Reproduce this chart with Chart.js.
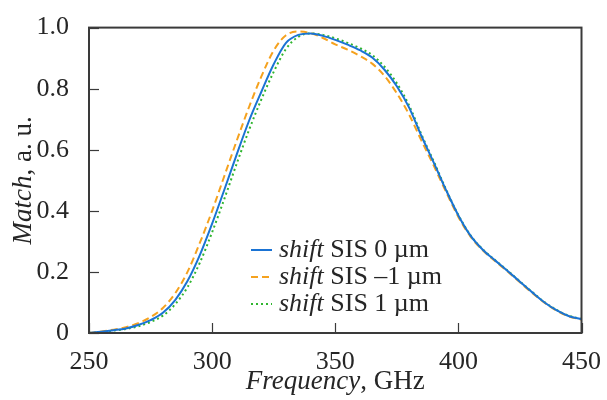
<!DOCTYPE html>
<html>
<head>
<meta charset="utf-8">
<script src="https://cdn.jsdelivr.net/npm/chart.js@4.4.0/dist/chart.umd.min.js"></script>
<style>
  html, body { margin: 0; padding: 0; background: #fff; }
  #wrap { width: 607px; height: 400px; }
  .warm { position: absolute; left: -999px; font-family: "Liberation Serif"; font-size: 24px; }
</style>
</head>
<body>
<span class="warm">warm <i>italic</i></span>
<div id="wrap"><canvas id="chart" width="607" height="400"></canvas></div>
<script>
// frequency grid, GHz
const freq = [250,255,260,265,270,275,280,285,290,295,300,305,310,315,320,325,330,335,340,345,350,
  355,360,365,370,375,380,385,390,395,400,405,410,415,420,425,430,435,440,445,450];

// shift SIS 0 um
const match0 = [0.000,0.004,0.009,0.015,0.026,0.042,0.066,0.108,0.170,0.255,0.358,0.470,0.585,0.695,0.790,0.880,0.950,0.976,0.981,0.973,0.960,
  0.944,0.926,0.902,0.862,0.808,0.738,0.645,0.558,0.468,0.385,0.318,0.272,0.237,0.203,0.168,0.133,0.100,0.074,0.055,0.045];
// shift SIS -1 um
const matchM1 = [0.000,0.005,0.011,0.019,0.032,0.052,0.082,0.130,0.200,0.295,0.400,0.515,0.630,0.740,0.840,0.925,0.975,0.987,0.982,0.966,0.945,
  0.928,0.907,0.882,0.842,0.785,0.715,0.630,0.548,0.462,0.380,0.315,0.270,0.235,0.201,0.166,0.131,0.099,0.073,0.054,0.044];
// shift SIS 1 um
const matchP1 = [0.000,0.003,0.008,0.013,0.022,0.036,0.057,0.094,0.150,0.230,0.330,0.440,0.555,0.665,0.765,0.855,0.930,0.970,0.981,0.976,0.965,
  0.950,0.933,0.910,0.872,0.818,0.745,0.650,0.562,0.470,0.386,0.319,0.273,0.238,0.204,0.169,0.134,0.101,0.075,0.056,0.046];

const xTicks = [250, 300, 350, 400, 450];
const yTicks = [0, 0.2, 0.4, 0.6, 0.8, 1.0];
const legendLabels = [' SIS 0 µm', ' SIS –1 µm', ' SIS 1 µm'];

const SERIF = '"Liberation Serif", serif';
const INK = '#262626';

const pts = (ys) => freq.map((f, i) => ({ x: f, y: ys[i] }));

// frame, inward ticks, axis titles, legend
const decor = {
  id: 'decor',
  afterDraw(chart) {
    const { ctx, chartArea: a, scales } = chart;
    ctx.save();
    ctx.strokeStyle = '#3a3a3a';
    ctx.lineWidth = 1.2;
    for (const v of xTicks) {
      const px = Math.round(scales.x.getPixelForValue(v)) + 0.5;
      ctx.beginPath(); ctx.moveTo(px, a.bottom); ctx.lineTo(px, a.bottom - 10); ctx.stroke();
    }
    for (const v of yTicks) {
      const py = Math.round(scales.y.getPixelForValue(v)) + 0.5;
      ctx.beginPath(); ctx.moveTo(a.left, py); ctx.lineTo(a.left + 10, py); ctx.stroke();
    }
    ctx.lineWidth = 2;
    ctx.strokeRect(a.left, a.top, a.right - a.left, a.bottom - a.top);

    ctx.fillStyle = INK;
    ctx.textBaseline = 'middle';
    const drawMixed = (parts, cx, cy) => {
      let w = 0;
      for (const p of parts) { ctx.font = p[1]; w += ctx.measureText(p[0]).width; }
      let x = cx - w / 2;
      ctx.textAlign = 'left';
      for (const p of parts) { ctx.font = p[1]; ctx.fillText(p[0], x, cy); x += ctx.measureText(p[0]).width; }
    };
    drawMixed([['Frequency', 'italic 27px ' + SERIF], [', GHz', '27px ' + SERIF]], (a.left + a.right) / 2, 382);
    ctx.save();
    ctx.translate(24, (a.top + a.bottom) / 2);
    ctx.rotate(-Math.PI / 2);
    drawMixed([['Match', 'italic 27px ' + SERIF], [', a. u.', '27px ' + SERIF]], 0, 0);
    ctx.restore();

    // legend
    const rows = [250, 277, 304];
    chart.data.datasets.forEach((ds, i) => {
      const y = rows[i];
      ctx.strokeStyle = ds.borderColor;
      ctx.lineWidth = ds.borderWidth;
      ctx.setLineDash(ds.borderDash || []);
      ctx.beginPath(); ctx.moveTo(251, y); ctx.lineTo(272, y); ctx.stroke();
      ctx.setLineDash([]);
      ctx.textAlign = 'left';
      ctx.font = 'italic 26px ' + SERIF;
      ctx.fillText('shift', 279, y);
      const w = ctx.measureText('shift').width;
      ctx.font = '26px ' + SERIF;
      ctx.fillText(legendLabels[i], 279 + w, y);
    });
    ctx.restore();
  }
};

function build() {
  new Chart(document.getElementById('chart').getContext('2d'), {
    type: 'line',
    data: {
      datasets: [
        { label: 'shift SIS 0 µm', data: pts(match0), borderColor: '#1a73d4', borderWidth: 2, borderDash: [] },
        { label: 'shift SIS –1 µm', data: pts(matchM1), borderColor: '#f5a21e', borderWidth: 2, borderDash: [7, 4] },
        { label: 'shift SIS 1 µm', data: pts(matchP1), borderColor: '#2fb52f', borderWidth: 2, borderDash: [2, 3] }
      ]
    },
    options: {
      responsive: false,
      animation: false,
      layout: { padding: { top: 19, right: 21, left: 0, bottom: 0 } },
      elements: { point: { radius: 0 }, line: { cubicInterpolationMode: 'monotone' } },
      plugins: { legend: { display: false }, tooltip: { enabled: false } },
      scales: {
        x: {
          type: 'linear', min: 250, max: 450,
          afterBuildTicks: s => { s.ticks = xTicks.map(v => ({ value: v })); },
          afterFit: s => { s.height = 67; },
          grid: { display: false }, border: { display: false },
          ticks: { color: INK, font: { family: SERIF, size: 26 }, padding: 6, maxRotation: 0 }
        },
        y: {
          min: 0, max: 1,
          afterBuildTicks: s => { s.ticks = yTicks.map(v => ({ value: v })); },
          afterFit: s => { s.width = 89; },
          grid: { display: false }, border: { display: false },
          ticks: { color: INK, font: { family: SERIF, size: 26 }, padding: 12,
            callback: v => v === 0 ? '0' : v.toFixed(1) }
        }
      }
    },
    plugins: [decor]
  });
}

Promise.all([
  document.fonts.load('24px "Liberation Serif"'),
  document.fonts.load('italic 24px "Liberation Serif"')
]).then(build, build);
</script>
</body>
</html>
